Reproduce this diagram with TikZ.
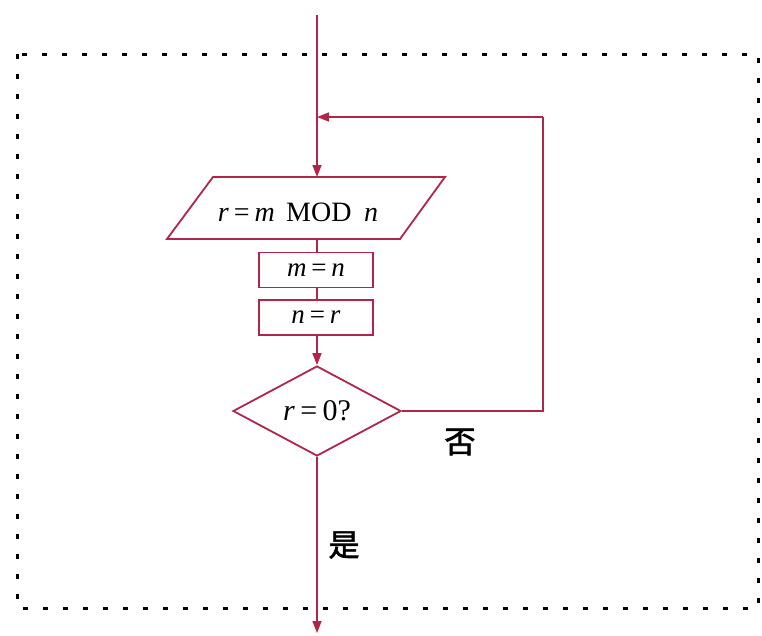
\documentclass[tikz,border=0pt]{standalone}
\usepackage{fontspec}
\setmainfont{Liberation Serif}
\newfontfamily\cjk{Noto Sans CJK SC}[AutoFakeBold=2]
\usetikzlibrary{shapes.geometric,arrows.meta}
\definecolor{flow}{RGB}{178,36,72}
\newcommand{\eqs}{\hspace{0.18em}=\hspace{0.18em}}
\tikzset{
  flowline/.style={draw=flow, line width=1.6pt},
  arr/.style={flowline, -{Triangle[length=12pt,width=9pt]}},
  boxnode/.style={draw=flow, line width=1.8pt, minimum width=114pt, minimum height=35pt, inner sep=0pt, font=\fontsize{27}{29}\selectfont},
  decide/.style={diamond, draw=flow, line width=1.8pt, minimum width=168pt, minimum height=90pt, aspect=1.87, inner sep=0pt, font=\fontsize{30}{32}\selectfont},
  lbl/.style={font=\cjk\bfseries\fontsize{31}{33}\selectfont, inner sep=0pt},
  frame/.style={draw=black, line width=3pt, dash pattern=on 5pt off 15pt}
}
\begin{document}
\begin{tikzpicture}[x=1pt,y=-1pt]
\useasboundingbox (0,0) rectangle (762,635);
% dotted frame
\draw[frame] (17,54) rectangle (758,608);
% parallelogram
\coordinate (pBL) at (167,239);
\coordinate (pBR) at (400,239);
\coordinate (pTR) at (445,177);
\coordinate (pTL) at (213,177);
\draw[flowline, line width=1.8pt, fill=white] (pBL) -- (pBR) -- (pTR) -- (pTL) -- cycle;
\node[inner sep=0pt, font=\fontsize{28}{30}\selectfont] (para) at (298,212) {\textit{r}\eqs\textit{m}\hspace{0.4em}MOD\hspace{0.45em}\textit{n}};
\coordinate (paratop) at (317,177);
\coordinate (parabot) at (317,239);
% boxes
\node[boxnode] (mn) at (316,270) {\textit{m}\eqs\textit{n}};
\node[boxnode] (nr) at (316,317.5) {\textit{n}\eqs\textit{r}};
% decision
\node[decide] (dec) at (317,411) {\textit{r}\eqs 0?};
% coordinates
\coordinate (start) at (317,15);
\coordinate (join) at (317,117);
\coordinate (loopR) at (543,411);
\coordinate (loopT) at (543,117);
\coordinate (endp) at (317,633);
% connectors
\draw[arr] (start) -- (paratop);
\draw[flowline] (parabot) -- (parabot |- mn.north);
\draw[flowline] (mn.south -| parabot) -- (parabot |- nr.north);
\draw[arr] (nr.south -| parabot) -- (dec.north);
\draw[flowline] (dec.east) -- (loopR) -- (loopT);
\draw[arr] (loopT) -- (join);
\draw[arr] (dec.south) -- (endp);
% labels
\node[lbl] (no) at (460,442) {否};
\node[lbl] (yes) at (344,545) {是};
\end{tikzpicture}
\end{document}
